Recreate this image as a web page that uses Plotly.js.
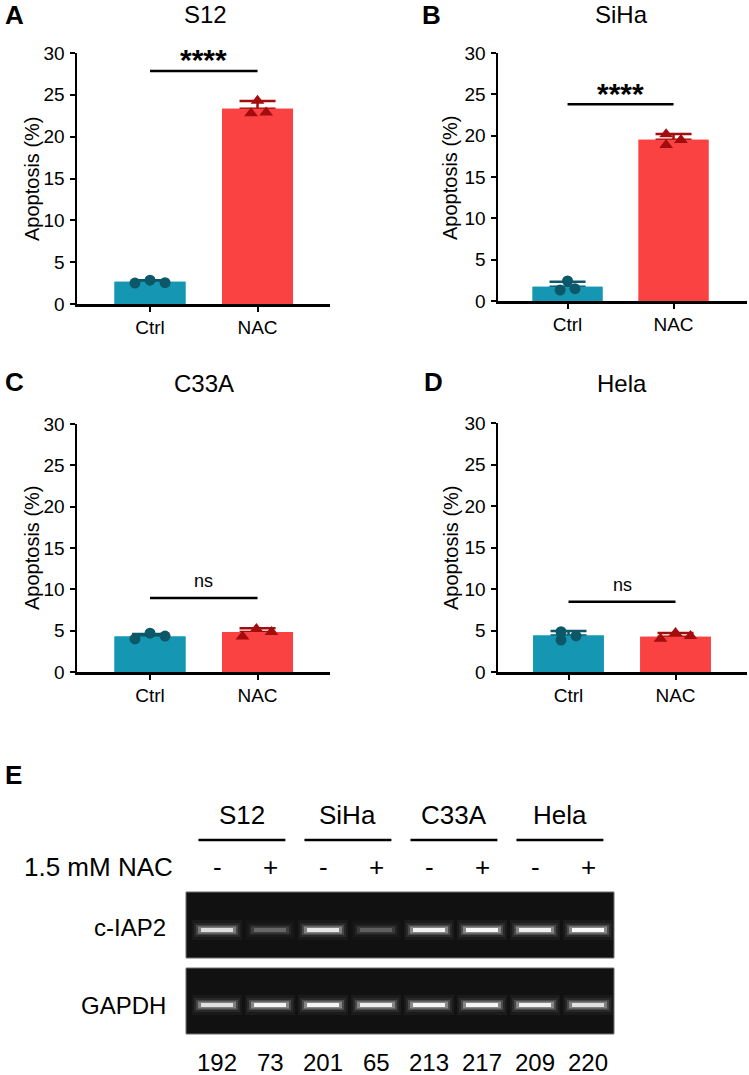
<!DOCTYPE html>
<html>
<head>
<meta charset="utf-8">
<script src="https://cdn.plot.ly/plotly-3.0.1.min.js"></script>
<style>html,body{margin:0;padding:0;background:#fff;}#chart{width:749px;height:1075px;}</style>
</head>
<body>
<div id="chart"></div>
<script>
// ---------- data ----------
const categories = ['Ctrl', 'NAC'];
const panelLetters = ['A', 'B', 'C', 'D'];
const panelNames = ['S12', 'SiHa', 'C33A', 'Hela'];
const ctrlMean = [2.65, 1.73, 4.3, 4.4];
const nacMean = [23.35, 19.5, 4.85, 4.25];
const ctrlErr = [0.2, 0.6, 0.3, 0.55];
const nacErr = [0.9, 0.7, 0.45, 0.45];
const ctrlPoints = [[2.5, 2.85, 2.55], [1.33, 2.42, 1.49], [4.0, 4.7, 4.35], [4.85, 3.85, 4.35]];
const nacPoints = [[22.8, 24.3, 22.9], [20.16, 18.87, 19.47], [4.3, 5.2, 4.85], [4.0, 4.7, 4.35]];
const sigLabels = ['****', '****', 'ns', 'ns'];
const sigLevels = [27.85, 23.8, 8.95, 8.45];
const yTicks = [0, 5, 10, 15, 20, 25, 30];

const gelGroups = ['S12', 'SiHa', 'C33A', 'Hela'];
const nacTreatment = ['-', '+', '-', '+', '-', '+', '-', '+'];
const ciap2Density = [192, 73, 201, 65, 213, 217, 209, 220];
const gapdhBrightness = [0.86, 0.95, 0.95, 0.92, 0.95, 0.95, 0.93, 0.86];
const gelRows = ['c-IAP2', 'GAPDH'];

// ---------- styling / geometry ----------
const W = 749, H = 1075;
const FONT = 'Liberation Sans, Arial, sans-serif';
const ctrlBar = '#1597B3', ctrlDot = '#0C5868';
const nacBar = '#FA4242', nacDot = '#A30D0D';
const px = v => v / W;
const py = v => 1 - v / H;
const geo = [
  {x0: 77, x1: 330, y0: 304, y30: 53, xr: [-0.679, 1.674], letter: [3, 15], title: [205, 15], ytitle: [32, 179],
   cOff: [-0.14, 0, 0.14], nOff: [-0.06, 0, 0.08]},
  {x0: 498, x1: 747, y0: 301, y30: 53, xr: [-0.656, 1.693], letter: [420, 15], title: [621, 15], ytitle: [450, 178],
   cOff: [-0.07, 0, 0.07], nOff: [-0.07, -0.07, 0.07]},
  {x0: 77, x1: 330, y0: 672, y30: 424, xr: [-0.679, 1.674], letter: [3, 382], title: [204, 384], ytitle: [32, 548],
   cOff: [-0.14, 0, 0.14], nOff: [-0.14, -0.01, 0.13]},
  {x0: 498, x1: 747, y0: 672, y30: 423, xr: [-0.659, 1.668], letter: [422, 382], title: [622, 383], ytitle: [451, 548],
   cOff: [-0.07, -0.07, 0.07], nOff: [-0.14, 0, 0.14]}
];

const traces = [];
const layout = {
  width: W, height: H,
  margin: {l: 0, r: 0, t: 0, b: 0},
  paper_bgcolor: '#ffffff', plot_bgcolor: 'rgba(0,0,0,0)',
  showlegend: false, barmode: 'overlay',
  font: {family: FONT, color: '#000'},
  annotations: [], shapes: []
};

panelNames.forEach((name, i) => {
  const g = geo[i];
  const n = i + 1;
  const xa = n === 1 ? 'x' : 'x' + n, ya = n === 1 ? 'y' : 'y' + n;
  const xk = n === 1 ? 'xaxis' : 'xaxis' + n, yk = n === 1 ? 'yaxis' : 'yaxis' + n;
  layout[xk] = {
    domain: [px(g.x0), px(g.x1)], range: g.xr, anchor: ya,
    tickvals: [0, 1], ticktext: categories, ticks: 'outside', ticklen: 5, tickwidth: 2, tickcolor: '#000',
    showline: true, linewidth: 2.5, linecolor: '#000', showgrid: false, zeroline: false,
    tickfont: {size: 19, family: FONT, color: '#000'}, fixedrange: true
  };
  layout[yk] = {
    domain: [py(g.y0), py(g.y30)], range: [0, 30], anchor: xa,
    tickvals: yTicks, ticks: 'outside', ticklen: 5, tickwidth: 2, tickcolor: '#000',
    showline: true, linewidth: 2.5, linecolor: '#000', showgrid: false, zeroline: false,
    tickfont: {size: 19, family: FONT, color: '#000'}, ticklabelstandoff: 1, fixedrange: true
  };
  const groups = [
    {idx: 0, mean: ctrlMean[i], err: ctrlErr[i], bar: ctrlBar, dot: ctrlDot, pts: ctrlPoints[i], off: g.cOff, sym: 'circle', size: 11},
    {idx: 1, mean: nacMean[i], err: nacErr[i], bar: nacBar, dot: nacDot, pts: nacPoints[i], off: g.nOff, sym: 'triangle-up', size: 12}
  ];
  groups.forEach(gr => {
    traces.push({type: 'bar', x: [gr.idx], y: [gr.mean], width: 0.66, xaxis: xa, yaxis: ya,
      marker: {color: gr.bar}, hoverinfo: 'skip',
      error_y: {type: 'data', symmetric: false, array: [gr.err], arrayminus: [0], color: gr.dot, thickness: 2.5, width: 18}});
    traces.push({type: 'bar', x: [gr.idx], y: [gr.mean], width: 0.66, xaxis: xa, yaxis: ya,
      marker: {color: gr.bar, line: {width: 0}}, hoverinfo: 'skip'});
  });
  groups.forEach(gr => {
    traces.push({type: 'scatter', mode: 'markers', xaxis: xa, yaxis: ya,
      x: gr.pts.map((v, k) => gr.idx + gr.off[k]), y: gr.pts,
      marker: {symbol: gr.sym, size: gr.size, color: gr.dot, line: {width: 0}}, cliponaxis: false, hoverinfo: 'skip'});
  });
  traces.push({type: 'scatter', mode: 'lines', xaxis: xa, yaxis: ya, x: [0, 1], y: [sigLevels[i], sigLevels[i]],
    line: {color: '#000', width: 2.5}, cliponaxis: false, hoverinfo: 'skip'});
  const isStar = sigLabels[i] === '****';
  layout.annotations.push({xref: xa, yref: ya, x: 0.5, y: sigLevels[i], text: sigLabels[i], showarrow: false,
    xanchor: 'center', yanchor: 'middle', yshift: isStar ? 11 : 17,
    font: {size: isStar ? 30 : 18, family: FONT, color: '#000', weight: isStar ? 'bold' : 'normal'}});
  layout.annotations.push({xref: 'paper', yref: 'paper', x: px(g.letter[0]), y: py(g.letter[1]), text: '<b>' + panelLetters[i] + '</b>',
    showarrow: false, xanchor: 'left', yanchor: 'middle', font: {size: 26, family: FONT, color: '#000'}});
  layout.annotations.push({xref: 'paper', yref: 'paper', x: px(g.title[0]), y: py(g.title[1]), text: name,
    showarrow: false, xanchor: 'center', yanchor: 'middle', font: {size: 24, family: FONT, color: '#000'}});
  layout.annotations.push({xref: 'paper', yref: 'paper', x: px(g.ytitle[0]), y: py(g.ytitle[1]), text: 'Apoptosis (%)',
    showarrow: false, textangle: -90, xanchor: 'center', yanchor: 'middle', font: {size: 20, family: FONT, color: '#000'}});
});

// ---------- gel panel E ----------
const gelX = [186, 614], gelXR = [-0.585, 7.49];
const gelY = [[892, 958], [968, 1034]];
const bandPos = [0.424, 0.44];
const lanes = ciap2Density.map((v, k) => k);
// soft band layers: [length px, thickness px, alpha factor]
const bandLayers = [[50, 20, 0.05], [46, 14, 0.08], [42, 10, 0.18], [38, 7, 0.4]];
[5, 6].forEach((n, r) => {
  layout['xaxis' + n] = {domain: [px(gelX[0]), px(gelX[1])], range: gelXR, anchor: 'y' + n, visible: false, fixedrange: true};
  layout['yaxis' + n] = {domain: [py(gelY[r][1]), py(gelY[r][0])], range: [0, 1], anchor: 'x' + n, visible: false, fixedrange: true};
  layout.shapes.push({type: 'rect', xref: 'x' + n + ' domain', yref: 'y' + n + ' domain', x0: 0, x1: 1, y0: 0, y1: 1,
    fillcolor: '#111111', line: {color: '#6f6f6f', width: 1}, layer: 'below'});
  const level = r === 0 ? ciap2Density.map(v => Math.min(1, v / 225)) : gapdhBrightness;
  bandLayers.forEach(L => {
    traces.push({type: 'scatter', mode: 'markers', xaxis: 'x' + n, yaxis: 'y' + n, x: lanes, y: lanes.map(() => bandPos[r]),
      marker: {symbol: 'line-ew', size: L[0] / 1.4, line: {width: L[1], color: level.map(a => 'rgba(235,235,235,' + (L[2] * a).toFixed(3) + ')')}},
      hoverinfo: 'skip'});
  });
  traces.push({type: 'scatter', mode: 'markers', xaxis: 'x' + n, yaxis: 'y' + n, x: lanes, y: lanes.map(() => bandPos[r]),
    marker: {symbol: 'line-ew', size: 32 / 1.4, line: {width: 4, color: level.map(a => { const c = Math.round(30 + 225 * a); return 'rgb(' + c + ',' + c + ',' + c + ')'; })}},
    hoverinfo: 'skip'});
  layout.annotations.push({xref: 'paper', yref: 'paper', x: px(168), y: py(r === 0 ? 927 : 1005), text: gelRows[r],
    showarrow: false, xanchor: 'right', yanchor: 'middle', font: {size: 24, family: FONT, color: '#000'}});
});
layout.annotations.push({xref: 'paper', yref: 'paper', x: px(3), y: py(775), text: '<b>E</b>', showarrow: false,
  xanchor: 'left', yanchor: 'middle', font: {size: 26, family: FONT, color: '#000'}});
gelGroups.forEach((name, k) => {
  const c = 2 * k + 0.47;
  layout.annotations.push({xref: 'x5', yref: 'paper', x: c, y: py(815), text: name, showarrow: false,
    xanchor: 'center', yanchor: 'middle', font: {size: 26, family: FONT, color: '#000'}});
  layout.shapes.push({type: 'line', xref: 'x5', yref: 'paper', x0: c - 0.82, x1: c + 0.82, y0: py(840), y1: py(840),
    line: {color: '#000', width: 2.5}});
});
layout.annotations.push({xref: 'paper', yref: 'paper', x: px(175), y: py(867), text: '1.5 mM NAC', showarrow: false,
  xanchor: 'right', yanchor: 'middle', font: {size: 26, family: FONT, color: '#000'}});
nacTreatment.forEach((s, k) => {
  layout.annotations.push({xref: 'x5', yref: 'paper', x: k, y: py(867), text: s, showarrow: false,
    xanchor: 'center', yanchor: 'middle', font: {size: 26, family: FONT, color: '#000'}});
  layout.annotations.push({xref: 'x5', yref: 'paper', x: k, y: py(1062), text: String(ciap2Density[k]), showarrow: false,
    xanchor: 'center', yanchor: 'middle', font: {size: 24, family: FONT, color: '#000'}});
});

Plotly.newPlot('chart', traces, layout, {staticPlot: true, displayModeBar: false});
</script>
</body>
</html>
